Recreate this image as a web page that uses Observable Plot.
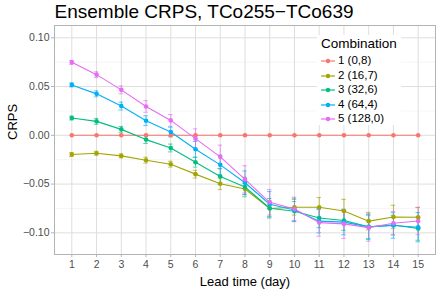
<!DOCTYPE html>
<html><head><meta charset="utf-8">
<script src="https://cdn.jsdelivr.net/npm/d3@7"></script>
<script src="https://cdn.jsdelivr.net/npm/@observablehq/plot@0.6"></script>
<style>
body{margin:0;background:#fff;font-family:"Liberation Sans",Arial,sans-serif;}
#wrap{position:relative;width:441px;height:289px;}
#legend{position:absolute;left:317px;top:35px;width:84px;height:90px;background:#fff;font-size:11.5px;color:#000;}
#legend .t{position:absolute;left:4px;top:1px;font-size:13.5px;}
#legend .row{position:absolute;left:4px;height:14px;line-height:14px;white-space:nowrap;}
#legend svg{vertical-align:middle;margin-right:3px;}
</style></head>
<body><div id="wrap"></div>
<script>
const leads = [1,2,3,4,5,6,7,8,9,10,11,12,13,14,15];
const combos = ["1 (0,8)","2 (16,7)","3 (32,6)","4 (64,4)","5 (128,0)"];
const colors = ["#F8766D","#A3A500","#00BF7D","#00B0F6","#E76BF3"];
const crps1 = [0,0,0,0,0,0,0,0,0,0,0,0,0,0,0];
const crps2 = [-0.0197,-0.0184,-0.0211,-0.0255,-0.0296,-0.0398,-0.0497,-0.0550,-0.0750,-0.0738,-0.0738,-0.0776,-0.0880,-0.0837,-0.0840];
const crps3 = [0.0177,0.0143,0.0061,-0.0044,-0.0130,-0.0276,-0.0422,-0.0530,-0.0748,-0.0779,-0.0847,-0.0874,-0.0939,-0.0920,-0.0956];
const crps4 = [0.0517,0.0425,0.0300,0.0150,0.0034,-0.0143,-0.0303,-0.0486,-0.0707,-0.0765,-0.0880,-0.0890,-0.0939,-0.0925,-0.0942];
const crps5 = [0.0748,0.0622,0.0466,0.0296,0.0153,-0.0034,-0.0221,-0.0452,-0.0687,-0.0755,-0.0895,-0.0908,-0.0946,-0.0901,-0.0878];
const err1 = [0,0,0,0,0,0,0,0,0,0,0,0,0,0,0];
const err2 = [0.002,0.002,0.002,0.003,0.003,0.004,0.006,0.006,0.008,0.008,0.010,0.012,0.009,0.012,0.010];
const err3 = [0.002,0.003,0.003,0.004,0.004,0.005,0.008,0.010,0.010,0.010,0.010,0.010,0.012,0.010,0.012];
const err4 = [0.002,0.003,0.004,0.005,0.005,0.008,0.010,0.012,0.013,0.012,0.012,0.013,0.013,0.013,0.015];
const err5 = [0.002,0.003,0.004,0.006,0.006,0.010,0.012,0.014,0.013,0.012,0.014,0.015,0.014,0.012,0.014];
const yTicks = [-0.10,-0.05,0.00,0.05,0.10];
const yMinor = [-0.075,-0.025,0.025,0.075];
const title = "Ensemble CRPS, TCo255\u2212TCo639";
const xLabel = "Lead time (day)";
const yLabel = "CRPS";
const legendTitle = "Combination";

const series = [crps1,crps2,crps3,crps4,crps5];
const errs = [err1,err2,err3,err4,err5];
const data = [];
series.forEach((s,i)=>s.forEach((v,j)=>data.push({combo:combos[i],lead:leads[j],v,e:errs[i][j]})));
const capW = 0.09;
const fmt = d => (d<0?"\u2212":"")+Math.abs(d).toFixed(2);

const chart = Plot.plot({
  width:441, height:289,
  marginLeft:54, marginRight:6, marginTop:25, marginBottom:35,
  style:{fontFamily:"Liberation Sans, Arial, sans-serif", background:"#fff", overflow:"visible"},
  x:{domain:[0.3,15.7]},
  y:{domain:[-0.1222,0.1126]},
  color:{domain:combos, range:colors},
  marks:[
    Plot.ruleY(yMinor,{stroke:"#EEEEEE",strokeWidth:0.6}),
    Plot.ruleY(yTicks,{stroke:"#DEDEDE",strokeWidth:1}),
    Plot.ruleX(leads,{stroke:"#DEDEDE",strokeWidth:1}),
    Plot.frame({stroke:"#B3B3B3",strokeWidth:1}),
    Plot.axisY(yTicks,{tickSize:3,tickPadding:2,stroke:"#B3B3B3",fill:"#4D4D4D",fontSize:10.5,tickFormat:fmt,label:null}),
    Plot.axisX(leads,{tickSize:3,tickPadding:3,stroke:"#B3B3B3",fill:"#4D4D4D",fontSize:10.5,label:null}),
    Plot.ruleX(data.filter(d=>d.e>0),{x:"lead",y1:d=>d.v-d.e,y2:d=>d.v+d.e,stroke:"combo",strokeWidth:1,strokeOpacity:0.65}),
    Plot.ruleY(data.filter(d=>d.e>0),{y:d=>d.v-d.e,x1:d=>d.lead-capW,x2:d=>d.lead+capW,stroke:"combo",strokeWidth:1,strokeOpacity:0.65}),
    Plot.ruleY(data.filter(d=>d.e>0),{y:d=>d.v+d.e,x1:d=>d.lead-capW,x2:d=>d.lead+capW,stroke:"combo",strokeWidth:1,strokeOpacity:0.65}),
    Plot.line(data,{x:"lead",y:"v",z:"combo",stroke:"combo",strokeWidth:1.1}),
    Plot.dot(data,{x:"lead",y:"v",fill:"combo",r:2.3,stroke:null}),
    Plot.text([title],{frameAnchor:"top-left",text:d=>d,dy:-21,dx:0,fontSize:19,fill:"#000",textAnchor:"start",lineAnchor:"top"}),
    Plot.text([xLabel],{frameAnchor:"bottom",text:d=>d,dy:31,fontSize:13,fill:"#000",lineAnchor:"bottom"}),
    Plot.text([yLabel],{frameAnchor:"left",text:d=>d,dx:-42,rotate:-90,fontSize:13,fill:"#000"})
  ]
});
const wrap = document.getElementById("wrap");
wrap.appendChild(chart);
const lg = document.createElement("div");
lg.id="legend";
let html = `<div class="t">${legendTitle}</div>`;
combos.forEach((c,i)=>{
  html += `<div class="row" style="top:${18+i*14.6}px"><svg width="14" height="8"><line x1="0" y1="4" x2="14" y2="4" stroke="${colors[i]}" stroke-width="1.2"/><circle cx="7" cy="4" r="2.2" fill="${colors[i]}"/></svg>${c}</div>`;
});
lg.innerHTML = html;
wrap.appendChild(lg);
</script></body></html>
